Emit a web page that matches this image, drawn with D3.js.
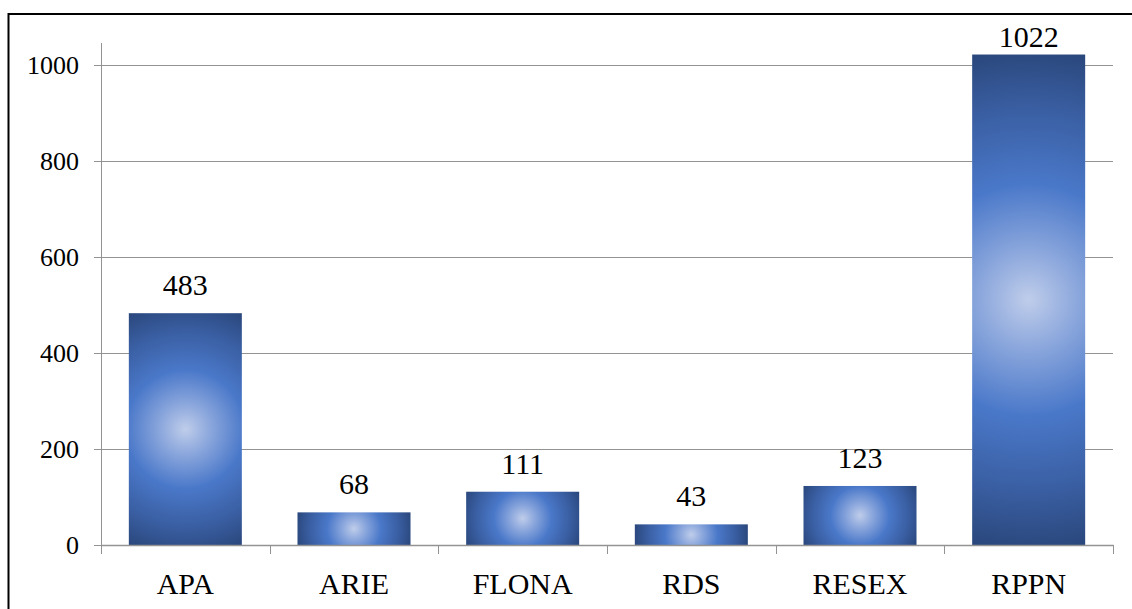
<!DOCTYPE html>
<html>
<head>
<meta charset="utf-8">
<script src="https://cdn.jsdelivr.net/npm/d3@7/dist/d3.min.js"></script>
<style>
  html, body { margin: 0; padding: 0; background: #fff; }
  svg { display: block; }
  text { font-family: "Liberation Serif", "Times New Roman", serif; fill: #000; }
</style>
</head>
<body>
<svg id="chart" width="1132" height="609"></svg>
<script>
// Unidades de conservação por categoria
const categories = ["APA", "ARIE", "FLONA", "RDS", "RESEX", "RPPN"];
const values = [483, 68, 111, 43, 123, 1022];
const yTicks = [0, 200, 400, 600, 800, 1000];

const svg = d3.select("#chart");
const W = 1132, H = 609;
const plot = { left: 101, right: 1113, top: 43, bottom: 545 };

// outer frame (extends past the right and bottom edges)
svg.append("rect")
  .attr("x", 8.5).attr("y", 14)
  .attr("width", W + 20).attr("height", H + 20)
  .attr("fill", "#fff").attr("stroke", "#000").attr("stroke-width", 2);

const x = d3.scaleBand()
  .domain(categories)
  .range([plot.left, plot.right])
  .paddingInner(0.33)
  .paddingOuter(0.165);

const y = d3.scaleLinear()
  .domain([0, 1046])
  .range([plot.bottom, plot.top]);

const gridColor = "#939393";

// horizontal gridlines
svg.append("g")
  .selectAll("line")
  .data(yTicks.filter(d => d > 0))
  .join("line")
  .attr("x1", plot.left).attr("x2", plot.right)
  .attr("y1", d => Math.round(y(d)) + 0.5).attr("y2", d => Math.round(y(d)) + 0.5)
  .attr("stroke", gridColor).attr("stroke-width", 1);

// radial fill for each bar: circle centred on the bar, reaching its corners
const defs = svg.append("defs");
values.forEach((v, i) => {
  const bx = x(categories[i]), bw = x.bandwidth();
  const by = y(v), bh = y(0) - y(v);
  const g = defs.append("radialGradient")
    .attr("id", "barFill" + i)
    .attr("gradientUnits", "userSpaceOnUse")
    .attr("cx", bx + bw / 2).attr("cy", by + bh / 2)
    .attr("r", Math.sqrt((bw / 2) ** 2 + (bh / 2) ** 2));
  g.append("stop").attr("offset", "0").attr("stop-color", "#bfcdea");
  g.append("stop").attr("offset", "0.2").attr("stop-color", "#8aa6dc");
  g.append("stop").attr("offset", "0.46").attr("stop-color", "#4a78c9");
  g.append("stop").attr("offset", "0.75").attr("stop-color", "#3a5fa3");
  g.append("stop").attr("offset", "1").attr("stop-color", "#2a477c");
});

// bars
svg.append("g")
  .selectAll("rect")
  .data(values)
  .join("rect")
  .attr("x", (d, i) => x(categories[i]))
  .attr("y", d => y(d))
  .attr("width", x.bandwidth())
  .attr("height", d => y(0) - y(d))
  .attr("fill", (d, i) => `url(#barFill${i})`);

// y axis line and ticks
const yAxis = svg.append("g");
yAxis.append("line")
  .attr("x1", plot.left + 0.5).attr("x2", plot.left + 0.5)
  .attr("y1", plot.top).attr("y2", plot.bottom)
  .attr("stroke", gridColor).attr("stroke-width", 1);
yAxis.selectAll("line.tick")
  .data(yTicks)
  .join("line")
  .attr("class", "tick")
  .attr("x1", plot.left - 7).attr("x2", plot.left)
  .attr("y1", d => Math.round(y(d)) + 0.5).attr("y2", d => Math.round(y(d)) + 0.5)
  .attr("stroke", gridColor).attr("stroke-width", 1);
yAxis.selectAll("text")
  .data(yTicks)
  .join("text")
  .attr("x", plot.left - 22)
  .attr("y", d => y(d))
  .attr("dy", "0.35em")
  .attr("text-anchor", "end")
  .attr("font-size", 26)
  .text(d => d);

// x axis line, boundary ticks and category labels
const xAxis = svg.append("g");
xAxis.append("line")
  .attr("x1", plot.left).attr("x2", plot.right + 0.5)
  .attr("y1", plot.bottom + 0.5).attr("y2", plot.bottom + 0.5)
  .attr("stroke", gridColor).attr("stroke-width", 1.5);
const bounds = categories.map(c => x(c) - x.step() * x.paddingInner() / 2)
  .concat([plot.right]);
bounds[0] = plot.left;
xAxis.selectAll("line.tick")
  .data(bounds)
  .join("line")
  .attr("class", "tick")
  .attr("x1", d => Math.round(d) + 0.5).attr("x2", d => Math.round(d) + 0.5)
  .attr("y1", plot.bottom).attr("y2", plot.bottom + 9)
  .attr("stroke", gridColor).attr("stroke-width", 1);
xAxis.selectAll("text")
  .data(categories)
  .join("text")
  .attr("x", d => x(d) + x.bandwidth() / 2)
  .attr("y", 594)
  .attr("text-anchor", "middle")
  .attr("font-size", 30)
  .text(d => d);

// value labels above the bars, kept inside the plot area
svg.append("g")
  .selectAll("text")
  .data(values)
  .join("text")
  .attr("x", (d, i) => x(categories[i]) + x.bandwidth() / 2)
  .attr("y", d => Math.max(y(d) - 18, 47))
  .attr("text-anchor", "middle")
  .attr("font-size", 30)
  .text(d => d);
</script>
</body>
</html>
